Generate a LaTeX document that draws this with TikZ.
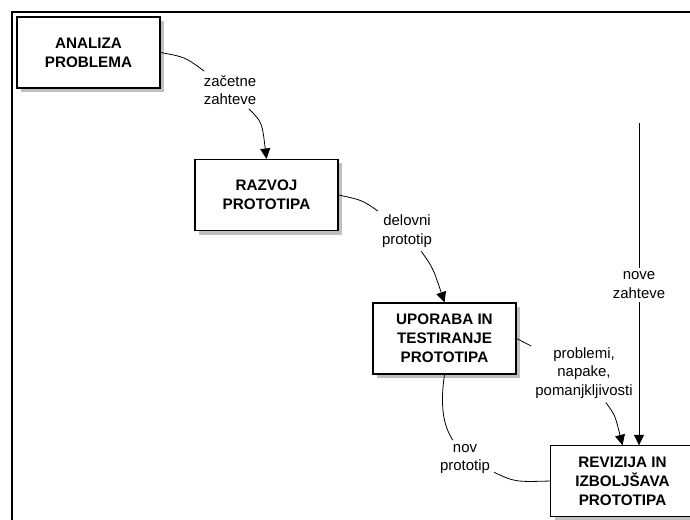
\documentclass[tikz,border=0pt]{standalone}
\usepackage{fontspec}
\setmainfont{Liberation Sans}
\usetikzlibrary{arrows.meta,shadows}
\begin{document}
\begin{tikzpicture}[x=1bp,y=-1bp,
  boxline/.style={line width=1.1pt},
  boxtext/.style={minimum width=143bp, minimum height=71bp, inner sep=0pt, align=center, font=\fontsize{15.3}{19}\selectfont\bfseries},
  box/.style={boxtext, boxline, draw, fill=white, drop shadow={shadow xshift=4bp, shadow yshift=-4bp, fill=black!25, opacity=1}},
  lbl/.style={align=center, font=\fontsize{15}{18.5}\selectfont, inner sep=4pt},
  conn/.style={line width=0.8pt},
  arr/.style={conn, -{Triangle[width=10pt,length=10.5pt]}}]
\useasboundingbox (0,0) rectangle (690,520);
\clip (0,0) rectangle (690,520);
\fill[white] (0,0) rectangle (690,520);
\draw[line width=2.2pt] (12,520) -- (12,12) -- (690,12);
\node[box] (an) at (88.5,52.5) {ANALIZA\\PROBLEMA};
\node[box] (rz) at (266.5,195) {RAZVOJ\\PROTOTIPA};
\node[box] (up) at (444.5,338.5) {UPORABA IN\\TESTIRANJE\\PROTOTIPA};
\node[boxtext] (rv) at (622.5,481) {REVIZIJA IN\\IZBOLJŠAVA\\PROTOTIPA};
\fill[black!25] (rv.south west) ++(4,0.5) rectangle ++(135,3);
\draw[boxline] (rv.north west) -- ++(139,0) (rv.north west) -- (rv.south west) -- ++(139,0);
\node[lbl] (l1) at (230,90) {začetne\\zahteve};
\node[lbl] (l2) at (407,231) {delovni\\prototip};
\node[lbl] (l3) at (584,373) {problemi,\\napake,\\pomanjkljivosti};
\node[lbl] (l4) at (639,285) {nove\\zahteve};
\node[lbl] (l5) at (465,459) {nov\\prototip};
\coordinate (nz) at (639,123);
\draw[conn] (an.east) .. controls (185,57) .. (l1);
\draw[arr] (l1) .. controls (262,122) .. (rz.north);
\draw[conn] (rz.east) .. controls (362,200) .. (l2);
\draw[arr] (l2) .. controls (433,268) .. (up.north);
\draw[conn] (up.east) -- (l3);
\draw[arr] (l3) .. controls (615,415) .. (rv.north);
\draw[conn] (nz) -- (l4);
\draw[arr] (l4) -- (l4 |- rv.north);
\draw[conn] (up.south) .. controls (440,405) and (443,425) .. (l5);
\draw[conn] (l5) .. controls (515,482) .. (rv.west);
\end{tikzpicture}
\end{document}
